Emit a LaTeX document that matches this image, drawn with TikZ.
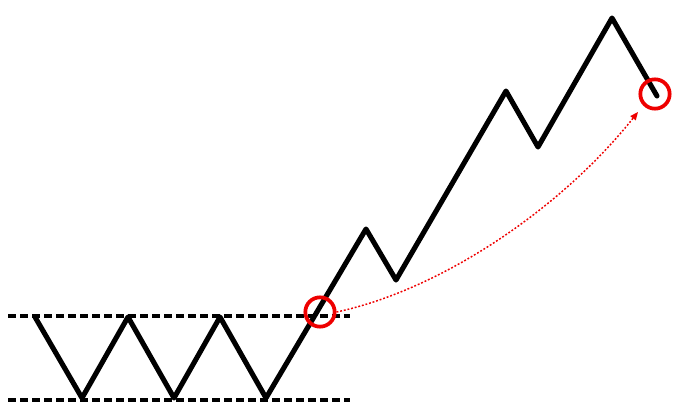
\documentclass[tikz,border=0pt]{standalone}
\usepackage{tikz}
\usetikzlibrary{arrows.meta}
\usepackage{xcolor}

\definecolor{sigred}{RGB}{238,0,0}

\begin{document}
\begin{tikzpicture}[x=0.75pt,y=0.75pt,yscale=-1,xscale=1,
  price/.style={line width=3.8pt,line join=round,line cap=round},
  level/.style={line width=2.3pt,dash pattern={on 6pt off 3pt}},
  ring/.style={circle,draw=sigred,line width=2.8pt,minimum size=22pt,inner sep=0pt},
  jump/.style={sigred,line width=1.1pt,dash pattern={on 1.4pt off 1.4pt},-{Triangle[length=6pt,width=5pt]}}]
\path (0,0) rectangle (676,412); %set diagram size 676 x 412

%Straight Lines (support / resistance)
\draw [level]  (8,316) -- (350,316) ;
\draw [level]  (8,400) -- (350,400) ;
%Straight Lines (price path)
\draw [price]  (35,317) -- (82,398) -- (128,317) -- (174,398) -- (220,317) -- (266,398) -- (366,229) -- (396,280) -- (506,91) -- (538,147) -- (612,18) -- (657,96) ;

%Shape: Circle
\node [ring] (brk) at (320,312) {};
%Shape: Circle
\node [ring] (tgt) at (655,94) {};

%Curve Lines
\draw [jump]  (brk.east) .. controls (440,290) and (560,210) .. (638,112) ;

\end{tikzpicture}
\end{document}
